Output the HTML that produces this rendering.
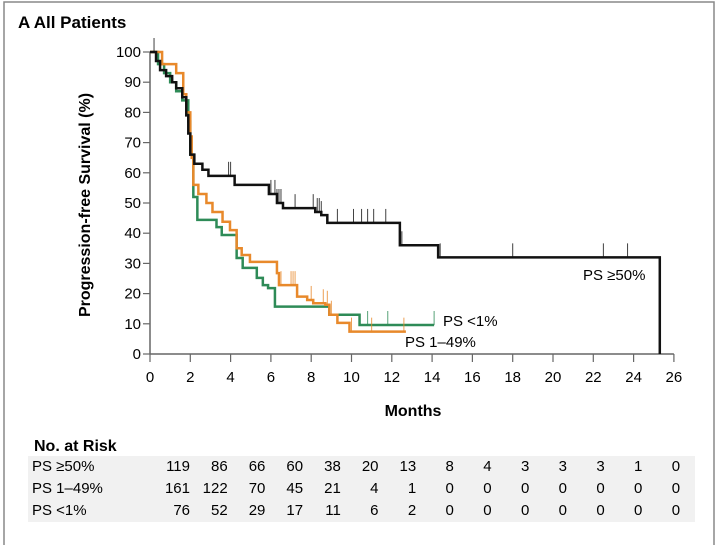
<!DOCTYPE html>
<html><head><meta charset="utf-8"><style>
body{margin:0;background:#fff;}
svg{display:block;font-family:"Liberation Sans","Noto Sans CJK SC",sans-serif;}
</style></head><body>
<svg width="720" height="545">
<rect x="4" y="2" width="710" height="560" fill="none" stroke="#888" stroke-width="1.5"/>
<text x="18" y="28" font-size="17" font-weight="bold">A  All Patients</text>
<g id="axes"></g>
<g id="curves"></g>
<text x="583" y="280" font-size="15">PS ≥50%</text>
<text x="443" y="326" font-size="15">PS &lt;1%</text>
<text x="405" y="347" font-size="15">PS 1–49%</text>
<text x="413" y="416" font-size="16" font-weight="bold" text-anchor="middle">Months</text>
<text transform="translate(90,205) rotate(-90)" font-size="16" font-weight="bold" text-anchor="middle">Progression-free Survival (%)</text>
<text x="34" y="451" font-size="16" font-weight="bold">No. at Risk</text>
<rect x="28" y="456" width="667" height="66" fill="#f1f1f1"/>
<g id="risk"></g>
</svg>
<script>
const xTicks=[0,2,4,6,8,10,12,14,16,18,20,22,24,26];
const yTicks=[0,10,20,30,40,50,60,70,80,90,100];
const blackT=[0,0.3,0.5,0.8,1.1,1.3,1.6,1.8,1.9,2.0,2.2,2.6,2.9,4.2,5.9,6.3,6.6,8.2,8.5,8.8,12.4,14.3,25.3];
const blackS=[100,97,94,92,90,88,85,79,73,66,63,61,59,56,53,50,48.3,47,46,43.4,36,32,0];
const orangeT=[0,0.6,1.3,1.65,1.8,2.0,2.07,2.15,2.4,2.8,3.1,3.6,3.97,4.3,4.55,4.96,6.3,6.4,7.3,7.8,8.1,8.7,8.9,9.3,9.9];
const orangeS=[100,96,93,86,80,72,65,56,53,50,47,43.8,41,35,32.8,30.5,26.8,22.8,19,17.9,16.8,16.3,13,10.3,7.4];
const orangeEnd=12.7;
const greenT=[0,0.4,0.7,1.0,1.3,1.6,1.9,2.0,2.15,2.35,3.3,3.56,4.3,4.6,5.3,5.6,5.86,6.2,8.9,10.4];
const greenS=[100,96,93,90,87,84,77,66,52,44.4,42,39.4,31.8,28.5,25.2,22.8,21.8,15.7,13,9.6];
const greenEnd=14.1;
const blackCens=[0.2,3.9,4.0,6.0,6.2,6.3,6.4,6.5,7.2,8.1,8.3,8.4,8.5,9.3,10.1,10.5,10.8,11.1,11.7,12.5,14.4,18,22.5,23.7];
const orangeCens=[6.5,7.0,7.1,7.2,8.0,8.6,8.8,9.0,10.0,11.0,12.6];
const greenCens=[10.8,11.8,14.1];
const riskLabels=["PS ≥50%","PS 1–49%","PS <1%"];
const risk50=[119,86,66,60,38,20,13,8,4,3,3,3,1,0];
const risk149=[161,122,70,45,21,4,1,0,0,0,0,0,0,0];
const risk1=[76,52,29,17,11,6,2,0,0,0,0,0,0,0];

const NS="http://www.w3.org/2000/svg";
const X=m=>150+m*20.15, Y=p=>354-p*3.02;
function mk(tag,attrs,parent){const e=document.createElementNS(NS,tag);for(const k in attrs)e.setAttribute(k,attrs[k]);parent.appendChild(e);return e;}
const ax=document.getElementById('axes');
let a=mk('line',{x1:X(0),y1:Y(0),x2:X(26),y2:Y(0),stroke:'#666','stroke-width':1.5},ax);


a=mk('line',{x1:X(0),y1:Y(0),x2:X(0),y2:Y(100),stroke:'#666','stroke-width':1.5},ax);


xTicks.forEach(t=>{
  mk('line',{x1:X(t),y1:Y(0),x2:X(t),y2:Y(0)+8,stroke:'#666','stroke-width':1.2},ax);
  const tx=mk('text',{x:X(t),y:382,'font-size':15,'text-anchor':'middle'},ax);tx.textContent=t;
  
  
});
yTicks.forEach(t=>{
  mk('line',{x1:X(0)-7,y1:Y(t),x2:X(0),y2:Y(t),stroke:'#666','stroke-width':1.2},ax);
  const tx=mk('text',{x:X(0)-9,y:Y(t)+5,'font-size':15,'text-anchor':'end'},ax);tx.textContent=t;
  
  
});
const cg=document.getElementById('curves');
function stepPath(T,S,end){let d=`M${X(T[0])},${Y(S[0])}`;for(let i=1;i<T.length;i++){d+=`H${X(T[i])}V${Y(S[i])}`;}if(end!=null)d+=`H${X(end)}`;return d;}
function survAt(T,S,t){let s=S[0];for(let i=0;i<T.length;i++)if(T[i]<=t)s=S[i];return s;}
function drawCurve(T,S,end,color,cens,name){
  const p=mk('path',{d:stepPath(T,S,end),fill:'none',stroke:color,'stroke-width':2.5},cg);
  
  
  cens.forEach(c=>{const s=survAt(T,S,c);const l=mk('line',{x1:X(c),y1:Y(s),x2:X(c),y2:Y(s)-14,stroke:color,'stroke-width':1,opacity:0.8},cg);
    
    });
}
drawCurve(greenT,greenS,greenEnd,'#2e8b57',greenCens,'curve-ps-lt1');
drawCurve(orangeT,orangeS,orangeEnd,'#e8892b',orangeCens,'curve-ps-1-49');
drawCurve(blackT,blackS,null,'#111',blackCens,'curve-ps-ge50');
const rg=document.getElementById('risk');
[risk50,risk149,risk1].forEach((row,r)=>{
  const y=471+r*22;
  const l=mk('text',{x:32,y:y,'font-size':15},rg);l.textContent=riskLabels[r];
  
  
  row.forEach((v,i)=>{const t=mk('text',{x:190+i*37.7,y:y,'font-size':15,'text-anchor':'end'},rg);t.textContent=v;
    
    });
});
</script>
</body></html>
